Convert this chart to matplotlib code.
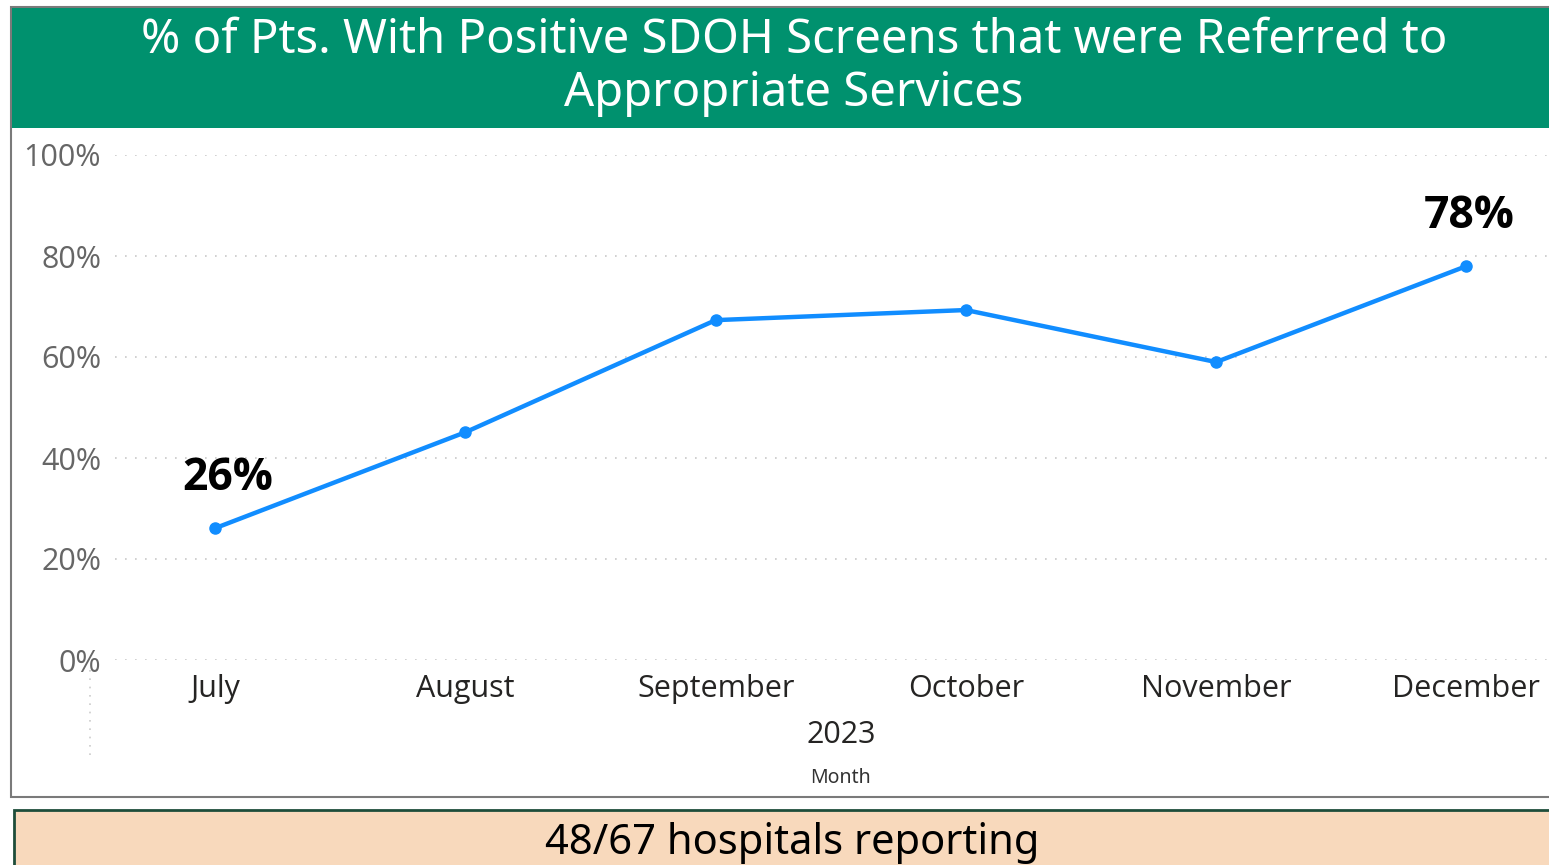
import matplotlib.pyplot as plt
from matplotlib.patches import Rectangle
from matplotlib.ticker import PercentFormatter

months = ['July', 'August', 'September', 'October', 'November', 'December']
pct = [26.1, 45.1, 67.3, 69.3, 59.0, 78.0]
label_idx = [0, 5]
yticks = [0, 20, 40, 60, 80, 100]

W, H = 1549, 865
fig = plt.figure(figsize=(W / 100, H / 100), dpi=100)
fig.patch.set_facecolor('white')

def fx(px):
    return px / W

def fy(py):
    return 1 - py / H

# outer frame of the visual
fig.patches.append(Rectangle((fx(11), fy(797)), fx(1560) - fx(11), fy(7) - fy(797),
                             transform=fig.transFigure, facecolor='white',
                             edgecolor='#7a7a7a', lw=1.5, zorder=-2))
# green header
fig.patches.append(Rectangle((fx(12), fy(128)), 1, fy(8) - fy(128),
                             transform=fig.transFigure, facecolor='#00916E',
                             edgecolor='none', zorder=-1))
fig.text(fx(794), fy(67), '% of Pts. With Positive SDOH Screens that were Referred to\nAppropriate Services',
         ha='center', va='center', color='white', fontsize=34, family='Noto Sans',
         fontweight='medium', linespacing=1.15, zorder=2)

# bottom box
fig.patches.append(Rectangle((fx(14), fy(880)), 1, fy(810) - fy(880),
                             transform=fig.transFigure, facecolor='#F8D9BC',
                             edgecolor='#1E4D3A', lw=2, zorder=-1))
fig.text(fx(792), fy(843), '48/67 hospitals reporting', ha='center', va='center',
         color='black', fontsize=30, family='Noto Sans', zorder=2)

ax = fig.add_axes([fx(115), fy(660), fx(1549) - fx(115), fy(155) - fy(660)])
x = range(len(months))
ax.plot(x, pct, color='#118DFF', lw=3.2, marker='o', ms=8, zorder=3, clip_on=False)

ax.set_xlim(-0.4, 5.33)
ax.set_ylim(0, 100)
ax.set_yticks(yticks)
ax.yaxis.set_major_formatter(PercentFormatter(decimals=0))
ax.set_xticks(list(x))
ax.set_xticklabels(months)
ax.tick_params(axis='y', length=0, pad=10, labelsize=22, labelcolor='#666666')
ax.tick_params(axis='x', length=0, pad=10, labelsize=22, labelcolor='#252423')
for lab in ax.get_xticklabels() + ax.get_yticklabels():
    lab.set_family('Open Sans')
ax.grid(axis='y', color='#c8c8c8', linestyle=(0, (1, 5)), lw=1.2)
for s in ax.spines.values():
    s.set_visible(False)
ax.set_facecolor('none')

for i in label_idx:
    dx = 13 if i == 0 else 3
    ax.annotate('%d%%' % round(pct[i]), (i, pct[i]), xytext=(dx * 0.72, 50 * 0.72),
                textcoords='offset points', ha='center', va='center',
                fontsize=32, fontweight='bold', family='Open Sans', color='black')

# stray dotted axis stub below the 0% line
fig.add_artist(plt.Line2D([fx(90), fx(90)], [fy(670), fy(760)], color='#cccccc',
                          linestyle=(0, (1, 4)), lw=1.2))

fig.text(fx(841), fy(735), '2023', ha='center', va='center', fontsize=22,
         family='Open Sans', color='#252423')
fig.text(fx(841), fy(778), 'Month', ha='center', va='center', fontsize=14,
         family='Noto Sans', fontweight='medium', color='#333333')

fig.savefig('out.png', dpi=100)
